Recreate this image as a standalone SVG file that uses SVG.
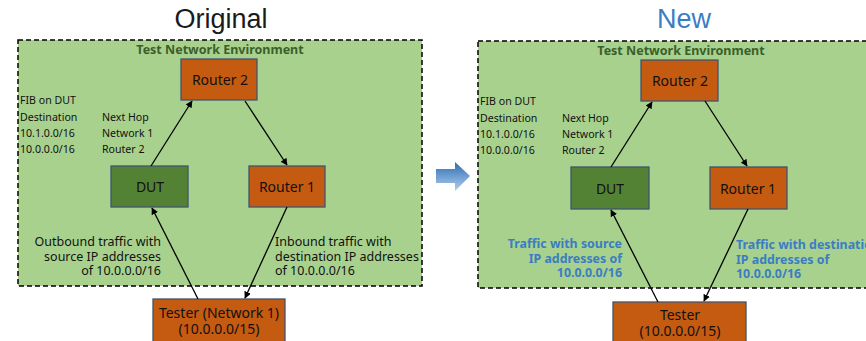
<svg xmlns="http://www.w3.org/2000/svg" width="866" height="341" viewBox="0 0 866 341">
<style>
.title{font-family:"Liberation Sans",Arial,sans-serif;font-size:27px;text-anchor:middle}
.env{fill:#A9D18E;stroke:#000;stroke-width:1.5;stroke-dasharray:5,3}
.envt{font-family:"Noto Sans",sans-serif;font-size:12.5px;font-weight:bold;fill:#3A5F2A;text-anchor:middle}
.org{fill:#C55A11;stroke:#3F5570;stroke-width:1.3}
.grn{fill:#548235;stroke:#3F5570;stroke-width:1.3}
.nt{font-family:"Noto Sans",sans-serif;font-size:14px;fill:#111;text-anchor:middle}
.fib{font-family:"Noto Sans",sans-serif;font-size:10.6px;fill:#111}
.lab{font-family:"Noto Sans",sans-serif;font-size:12.5px;fill:#111}
.blab{font-family:"Noto Sans",sans-serif;font-size:12.4px;font-weight:bold;fill:#3A7DC4}
.conn line{stroke:#000;stroke-width:1.3;marker-end:url(#ah)}
</style>
<defs>
<marker id="ah" viewBox="0 0 10 10" refX="9" refY="5" markerWidth="7" markerHeight="7" markerUnits="userSpaceOnUse" orient="auto">
<path d="M0,0 L10,5 L0,10 z" fill="#000"/>
</marker>
<linearGradient id="bg" x1="0" y1="0" x2="0" y2="1">
<stop offset="0" stop-color="#2C6DB4"/>
<stop offset="1" stop-color="#B3CFEE"/>
</linearGradient>
</defs>
<rect width="866" height="341" fill="#fff"/>

<!-- Left panel -->
<text class="title" x="221" y="28" fill="#1a1a1a">Original</text>
<g id="env-left">
<rect class="env" x="18" y="40" width="404" height="246"/>
<text class="envt" x="220" y="54">Test Network Environment</text>
</g>
<g id="fib-left">
<text class="fib" x="20" y="104">FIB on DUT</text>
<text class="fib" x="20" y="121">Destination</text>
<text class="fib" x="20" y="137">10.1.0.0/16</text>
<text class="fib" x="20" y="153">10.0.0.0/16</text>
<text class="fib" x="102" y="121">Next Hop</text>
<text class="fib" x="102" y="137">Network 1</text>
<text class="fib" x="102" y="153">Router 2</text>
</g>
<g id="router2-left"><rect class="org" x="181" y="59" width="76" height="41"/><text class="nt" x="220" y="85">Router 2</text></g>
<g id="dut-left"><rect class="grn" x="111" y="166" width="77" height="41"/><text class="nt" x="150" y="192">DUT</text></g>
<g id="router1-left"><rect class="org" x="249" y="166" width="76" height="41"/><text class="nt" x="287" y="192">Router 1</text></g>
<g id="tester-left"><rect class="org" x="153" y="299" width="132" height="50"/>
<text class="nt" x="219" y="318">Tester (Network 1)</text><text class="nt" x="219" y="334">(10.0.0.0/15)</text></g>
<g id="labels-left">
<text class="lab" x="161" y="246" text-anchor="end">Outbound traffic with</text>
<text class="lab" x="161" y="261" text-anchor="end">source IP addresses</text>
<text class="lab" x="161" y="275" text-anchor="end">of 10.0.0.0/16</text>
<text class="lab" x="275" y="246">Inbound traffic with</text>
<text class="lab" x="275" y="261">destination IP addresses</text>
<text class="lab" x="275" y="275">of 10.0.0.0/16</text>
</g>

<!-- Middle arrow -->
<g id="transition-arrow">
<path d="M436,169 L455,169 L455,162 L470,176 L455,191 L455,183 L436,183 z" fill="url(#bg)"/>
</g>

<!-- Right panel -->
<text class="title" x="684" y="28" fill="#3A7DC4">New</text>
<g id="env-right">
<rect class="env" x="478" y="41" width="400" height="247"/>
<text class="envt" x="681" y="55">Test Network Environment</text>
</g>
<g id="fib-right">
<text class="fib" x="480" y="105">FIB on DUT</text>
<text class="fib" x="480" y="122">Destination</text>
<text class="fib" x="480" y="138">10.1.0.0/16</text>
<text class="fib" x="480" y="154">10.0.0.0/16</text>
<text class="fib" x="562" y="122">Next Hop</text>
<text class="fib" x="562" y="138">Network 1</text>
<text class="fib" x="562" y="154">Router 2</text>
</g>
<g id="router2-right"><rect class="org" x="641" y="60" width="77" height="41"/><text class="nt" x="680" y="86">Router 2</text></g>
<g id="dut-right"><rect class="grn" x="571" y="167" width="78" height="42"/><text class="nt" x="610" y="194">DUT</text></g>
<g id="router1-right"><rect class="org" x="710" y="167" width="77" height="42"/><text class="nt" x="748" y="194">Router 1</text></g>
<g id="tester-right"><rect class="org" x="613" y="302" width="133" height="50"/>
<text class="nt" x="680" y="320">Tester</text><text class="nt" x="680" y="336">(10.0.0.0/15)</text></g>
<g id="labels-right">
<text class="blab" x="622" y="248" text-anchor="end">Traffic with source</text>
<text class="blab" x="622" y="263" text-anchor="end">IP addresses of</text>
<text class="blab" x="622" y="277" text-anchor="end">10.0.0.0/16</text>
<text class="blab" x="736" y="249">Traffic with destination</text>
<text class="blab" x="736" y="264">IP addresses of</text>
<text class="blab" x="736" y="278">10.0.0.0/16</text>
</g>

<g id="connectors" class="conn">
<line x1="151" y1="166" x2="192" y2="101"/>
<line x1="245" y1="101" x2="287" y2="165"/>
<line x1="198" y1="299" x2="152" y2="208"/>
<line x1="287" y1="207" x2="245" y2="298"/>
<line x1="611" y1="167" x2="652" y2="102"/>
<line x1="705" y1="101" x2="747" y2="166"/>
<line x1="658" y1="302" x2="611" y2="210"/>
<line x1="748" y1="209" x2="704" y2="301"/>
</g>
</svg>
